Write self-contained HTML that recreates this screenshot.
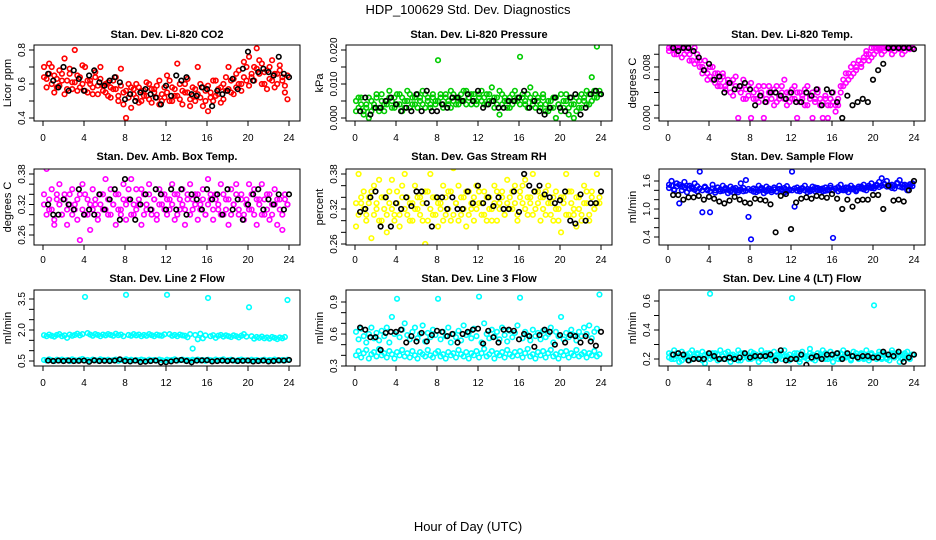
<!DOCTYPE html>
<html><head><meta charset="utf-8"><style>
html,body{margin:0;padding:0;background:#fff;}
svg{display:block;font-family:"Liberation Sans",sans-serif;}
</style></head><body>
<svg id="chart" width="936" height="540" viewBox="0 0 936 540">
<text x="468" y="14" text-anchor="middle" font-size="13">HDP_100629  Std. Dev. Diagnostics</text>
<text x="468" y="531" text-anchor="middle" font-size="13">Hour of Day (UTC)</text>
</svg>
<script>
const xTicks=[0,4,8,12,16,20,24];
const co2A=[0.70,0.63,0.72,0.60,0.65,0.58,0.68,0.62,0.75,0.57,0.66,0.61,0.80,0.56,0.64,0.60,0.70,0.55,0.62,0.58,0.67,0.54,0.63,0.59,0.60,0.53,0.58,0.62,0.57,0.50,0.69,0.55,0.40,0.52,0.58,0.54,0.60,0.49,0.56,0.53,0.61,0.51,0.57,0.55,0.59,0.48,0.54,0.52,0.65,0.50,0.58,0.53,0.72,0.51,0.56,0.60,0.55,0.47,0.53,0.57,0.70,0.52,0.58,0.50,0.44,0.55,0.62,0.53,0.57,0.49,0.60,0.56,0.70,0.55,0.63,0.58,0.68,0.60,0.73,0.62,0.76,0.64,0.70,0.81,0.66,0.72,0.60,0.68,0.63,0.74,0.58,0.66,0.71,0.62,0.55,0.51];
const co2B=[0.64,0.58,0.66,0.70,0.55,0.63,0.59,0.66,0.54,0.62,0.69,0.57,0.61,0.65,0.58,0.71,0.56,0.62,0.60,0.54,0.64,0.59,0.70,0.56,0.55,0.61,0.52,0.57,0.64,0.53,0.59,0.48,0.56,0.60,0.46,0.57,0.52,0.58,0.50,0.56,0.53,0.60,0.49,0.57,0.52,0.62,0.50,0.58,0.55,0.62,0.50,0.57,0.53,0.60,0.48,0.55,0.63,0.51,0.58,0.50,0.54,0.60,0.47,0.56,0.59,0.52,0.50,0.62,0.54,0.58,0.51,0.64,0.57,0.62,0.54,0.66,0.60,0.56,0.64,0.70,0.59,0.66,0.62,0.69,0.74,0.60,0.67,0.57,0.70,0.62,0.66,0.60,0.68,0.64,0.59,0.65];
const co2K=[0.66,0.62,0.58,0.70,0.56,0.68,0.63,0.56,0.65,0.68,0.61,0.59,0.62,0.64,0.61,0.51,0.54,0.50,0.55,0.57,0.54,0.52,0.48,0.59,0.53,0.65,0.62,0.64,0.54,0.53,0.58,0.57,0.47,0.56,0.54,0.56,0.63,0.57,0.69,0.79,0.62,0.67,0.69,0.67,0.65,0.76,0.66,0.64];
const presA=[0.005,0.003,0.006,0.002,0.004,0.000,0.005,0.003,0.006,0.002,0.007,0.004,0.005,0.008,0.003,0.006,0.004,0.007,0.002,0.005,0.008,0.003,0.006,0.004,0.007,0.005,0.008,0.003,0.006,0.004,0.007,0.005,0.017,0.006,0.003,0.007,0.004,0.008,0.005,0.006,0.004,0.007,0.005,0.008,0.006,0.004,0.007,0.005,0.006,0.008,0.004,0.007,0.005,0.009,0.006,0.004,0.001,0.007,0.005,0.003,0.006,0.004,0.008,0.005,0.018,0.006,0.004,0.007,0.009,0.005,0.003,0.006,0.004,0.007,0.002,0.005,0.003,0.006,0.000,0.004,0.007,0.003,0.005,0.001,0.004,0.000,0.006,0.003,0.007,0.005,0.008,0.004,0.012,0.006,0.021,0.008];
const presB=[0.002,0.006,0.004,0.001,0.003,0.006,0.002,0.004,0.007,0.003,0.005,0.002,0.004,0.006,0.005,0.003,0.007,0.004,0.006,0.003,0.005,0.007,0.004,0.006,0.003,0.006,0.004,0.007,0.005,0.003,0.006,0.004,0.005,0.007,0.004,0.006,0.005,0.003,0.007,0.004,0.006,0.005,0.008,0.004,0.006,0.007,0.005,0.004,0.007,0.005,0.006,0.004,0.007,0.005,0.003,0.006,0.008,0.004,0.006,0.005,0.003,0.007,0.005,0.006,0.004,0.007,0.005,0.003,0.006,0.004,0.007,0.005,0.003,0.006,0.004,0.002,0.005,0.003,0.006,0.004,0.002,0.005,0.007,0.003,0.006,0.004,0.002,0.005,0.003,0.006,0.004,0.007,0.005,0.008,0.006,0.007];
const presK=[0.002,0.006,0.001,0.003,0.003,0.005,0.006,0.004,0.002,0.003,0.002,0.007,0.002,0.008,0.002,0.002,0.004,0.003,0.006,0.006,0.005,0.007,0.005,0.008,0.003,0.004,0.005,0.003,0.003,0.005,0.005,0.006,0.008,0.003,0.005,0.002,0.001,0.003,0.006,0.003,0.002,0.006,0.007,0.001,0.003,0.007,0.008,0.007];
const tempA=[0.011,0.011,0.010,0.011,0.011,0.011,0.010,0.011,0.010,0.009,0.011,0.009,0.008,0.007,0.009,0.006,0.008,0.006,0.007,0.005,0.006,0.007,0.005,0.006,0.004,0.006,0.005,0.000,0.004,0.006,0.003,0.005,0.000,0.004,0.003,0.005,0.004,0.000,0.003,0.005,0.004,0.002,0.005,0.003,0.004,0.006,0.002,0.004,0.003,0.005,0.000,0.004,0.003,0.002,0.005,0.003,0.000,0.003,0.004,0.002,0.000,0.003,0.000,0.002,0.004,0.001,0.002,0.005,0.006,0.007,0.006,0.008,0.007,0.008,0.009,0.008,0.009,0.010,0.009,0.011,0.010,0.011,0.011,0.010,0.011,0.011,0.011,0.010,0.011,0.011,0.011,0.010,0.011,0.011,0.011,0.011];
const tempB=[0.0105,0.011,0.0108,0.010,0.011,0.0095,0.011,0.0105,0.009,0.0105,0.0085,0.010,0.009,0.008,0.0075,0.007,0.0065,0.008,0.0055,0.007,0.005,0.0065,0.0045,0.0055,0.0055,0.0035,0.0065,0.0045,0.005,0.003,0.0045,0.0035,0.0055,0.003,0.0045,0.0025,0.0035,0.005,0.0025,0.004,0.003,0.0045,0.0025,0.0035,0.005,0.003,0.004,0.0025,0.0045,0.003,0.004,0.0025,0.0035,0.0045,0.002,0.0035,0.004,0.0025,0.0045,0.003,0.0025,0.0035,0.002,0.003,0.0025,0.002,0.003,0.004,0.005,0.0055,0.007,0.0065,0.0085,0.0075,0.009,0.0085,0.0095,0.0105,0.01,0.0095,0.011,0.0105,0.0108,0.011,0.0105,0.011,0.0108,0.011,0.0105,0.011,0.0108,0.011,0.0105,0.011,0.0108,0.011];
const tempK=[0.011,0.0105,0.011,0.011,0.0105,0.0095,0.0075,0.0085,0.006,0.0065,0.004,0.0055,0.0045,0.005,0.0055,0.0045,0.002,0.0035,0.0025,0.004,0.004,0.0035,0.003,0.004,0.0025,0.0025,0.004,0.0035,0.0045,0.002,0.0045,0.004,0.0025,0.000,0.0035,0.002,0.0025,0.003,0.0025,0.006,0.0075,0.0085,0.011,0.011,0.011,0.011,0.011,0.0108];
const ambA=[0.34,0.39,0.31,0.35,0.29,0.33,0.36,0.30,0.34,0.28,0.32,0.35,0.31,0.29,0.34,0.36,0.30,0.33,0.27,0.35,0.32,0.29,0.34,0.31,0.37,0.30,0.35,0.32,0.28,0.34,0.31,0.36,0.29,0.33,0.37,0.30,0.35,0.32,0.28,0.34,0.31,0.36,0.30,0.33,0.29,0.35,0.32,0.34,0.30,0.33,0.36,0.29,0.34,0.31,0.35,0.28,0.33,0.36,0.31,0.34,0.29,0.32,0.35,0.30,0.37,0.33,0.29,0.34,0.31,0.36,0.30,0.33,0.28,0.35,0.32,0.36,0.30,0.34,0.29,0.33,0.36,0.31,0.35,0.28,0.33,0.36,0.30,0.34,0.29,0.32,0.35,0.28,0.33,0.30,0.34,0.32];
const ambB=[0.32,0.30,0.33,0.31,0.28,0.34,0.32,0.30,0.33,0.31,0.34,0.30,0.32,0.33,0.25,0.31,0.34,0.30,0.32,0.31,0.33,0.30,0.32,0.34,0.31,0.33,0.30,0.32,0.34,0.31,0.30,0.33,0.32,0.35,0.30,0.32,0.31,0.33,0.35,0.30,0.32,0.34,0.31,0.33,0.30,0.32,0.34,0.31,0.33,0.31,0.32,0.34,0.30,0.33,0.32,0.31,0.34,0.30,0.33,0.32,0.34,0.31,0.33,0.30,0.32,0.34,0.31,0.33,0.32,0.30,0.34,0.31,0.33,0.30,0.32,0.34,0.31,0.33,0.30,0.32,0.31,0.34,0.30,0.33,0.32,0.30,0.33,0.31,0.34,0.30,0.32,0.33,0.31,0.27,0.33,0.32];
const ambK=[0.32,0.30,0.30,0.33,0.32,0.31,0.35,0.30,0.31,0.30,0.34,0.31,0.33,0.35,0.29,0.37,0.33,0.29,0.32,0.34,0.31,0.35,0.34,0.31,0.35,0.31,0.35,0.30,0.34,0.33,0.31,0.35,0.33,0.34,0.30,0.35,0.31,0.33,0.29,0.32,0.34,0.35,0.31,0.33,0.32,0.34,0.31,0.34];
const rhA=[0.29,0.38,0.33,0.35,0.31,0.34,0.27,0.36,0.32,0.37,0.30,0.34,0.28,0.33,0.37,0.31,0.35,0.29,0.34,0.38,0.31,0.33,0.30,0.36,0.32,0.34,0.30,0.26,0.35,0.38,0.31,0.34,0.29,0.33,0.36,0.31,0.35,0.30,0.39,0.33,0.36,0.31,0.34,0.29,0.35,0.32,0.30,0.36,0.33,0.31,0.35,0.30,0.34,0.32,0.36,0.30,0.33,0.35,0.31,0.37,0.34,0.32,0.36,0.30,0.35,0.33,0.37,0.31,0.34,0.38,0.32,0.35,0.30,0.34,0.31,0.36,0.33,0.30,0.35,0.32,0.28,0.34,0.38,0.31,0.35,0.32,0.29,0.34,0.31,0.36,0.33,0.30,0.35,0.32,0.38,0.33];
const rhB=[0.33,0.31,0.34,0.32,0.30,0.33,0.35,0.31,0.33,0.30,0.34,0.32,0.31,0.35,0.32,0.30,0.33,0.31,0.36,0.32,0.34,0.30,0.33,0.32,0.34,0.31,0.33,0.35,0.30,0.32,0.34,0.31,0.33,0.32,0.30,0.34,0.32,0.35,0.31,0.33,0.30,0.34,0.32,0.35,0.31,0.33,0.34,0.32,0.35,0.33,0.31,0.34,0.32,0.30,0.33,0.35,0.32,0.34,0.31,0.33,0.32,0.35,0.33,0.31,0.34,0.36,0.32,0.34,0.33,0.31,0.35,0.33,0.34,0.32,0.35,0.33,0.31,0.34,0.32,0.30,0.34,0.33,0.31,0.35,0.33,0.31,0.34,0.32,0.30,0.33,0.35,0.31,0.34,0.32,0.33,0.34];
const rhK=[0.315,0.32,0.34,0.35,0.29,0.34,0.29,0.33,0.32,0.34,0.325,0.35,0.35,0.33,0.29,0.34,0.34,0.32,0.34,0.32,0.32,0.35,0.33,0.36,0.33,0.34,0.325,0.34,0.32,0.32,0.35,0.315,0.38,0.36,0.35,0.36,0.345,0.34,0.33,0.335,0.35,0.30,0.295,0.345,0.30,0.33,0.33,0.35];
const flowA=[1.52,1.60,1.40,1.55,1.12,1.48,1.58,1.36,1.50,1.44,1.55,1.38,1.80,0.93,1.48,1.40,0.93,1.52,1.35,1.46,1.38,1.50,1.42,1.34,1.48,1.36,1.45,1.40,1.55,1.38,1.62,0.83,0.35,1.44,1.36,1.50,1.42,1.34,1.48,1.40,1.36,1.46,1.38,1.50,1.42,1.35,1.49,1.40,1.80,1.05,1.46,1.38,1.44,1.50,1.36,1.42,1.48,1.38,1.45,1.40,1.38,1.46,1.40,1.50,0.38,1.44,1.38,1.52,1.40,1.46,1.36,1.50,1.42,1.38,1.48,1.44,1.52,1.40,1.46,1.55,1.44,1.50,1.58,1.66,1.54,1.60,1.48,1.52,1.44,1.56,1.62,1.46,1.52,1.40,1.48,1.55];
const flowB=[1.45,1.50,1.42,1.48,1.52,1.40,1.46,1.50,1.43,1.47,1.41,1.49,1.44,1.40,1.46,1.42,1.38,1.44,1.40,1.46,1.42,1.39,1.45,1.41,1.38,1.44,1.40,1.36,1.42,1.45,1.39,1.43,1.40,1.37,1.43,1.39,1.45,1.41,1.38,1.44,1.40,1.42,1.37,1.43,1.40,1.45,1.38,1.42,1.40,1.44,1.39,1.42,1.45,1.40,1.43,1.38,1.41,1.46,1.40,1.43,1.44,1.39,1.42,1.45,1.40,1.43,1.47,1.41,1.44,1.40,1.46,1.42,1.45,1.41,1.44,1.48,1.42,1.46,1.50,1.45,1.48,1.52,1.47,1.50,1.53,1.48,1.51,1.45,1.50,1.54,1.48,1.52,1.46,1.50,1.53,1.49];
const flowK=[1.30,1.30,1.20,1.25,1.25,1.28,1.20,1.26,1.22,1.16,1.12,1.18,1.26,1.20,1.14,1.12,1.22,1.20,1.18,1.10,0.50,1.28,1.32,0.57,1.14,1.22,1.25,1.22,1.28,1.26,1.24,1.32,1.22,1.00,1.20,1.05,1.18,1.20,1.20,1.30,1.30,1.00,1.50,1.18,1.20,1.16,1.40,1.60];
const l2A=[1.75,1.70,1.78,1.72,1.68,1.76,1.80,1.70,1.74,1.62,1.78,1.72,1.76,1.82,1.74,1.80,3.60,1.85,1.78,1.72,1.80,1.76,1.70,1.78,1.74,1.80,1.76,1.72,1.82,1.75,1.78,1.70,3.70,1.76,1.72,1.80,1.74,1.78,1.70,1.76,1.72,1.80,1.75,1.70,1.78,1.74,1.72,1.79,3.70,1.80,1.72,1.76,1.70,1.78,1.74,1.72,1.65,1.80,1.10,1.76,1.55,1.82,1.60,1.74,3.55,1.70,1.75,1.62,1.72,1.76,1.68,1.74,1.70,1.66,1.74,1.70,1.64,1.72,1.80,1.68,3.10,1.70,1.58,1.66,1.62,1.68,1.60,1.64,1.58,1.66,1.62,1.56,1.64,1.60,1.66,3.45];
const l2B=[0.55,0.52,0.58,0.54,0.50,0.56,0.53,0.57,0.52,0.55,0.50,0.58,0.54,0.52,0.56,0.60,0.53,0.55,0.51,0.57,0.54,0.52,0.58,0.55,0.53,0.56,0.52,0.54,0.57,0.51,0.55,0.53,0.58,0.54,0.56,0.52,0.55,0.53,0.57,0.54,0.51,0.56,0.53,0.55,0.52,0.57,0.54,0.50,0.56,0.53,0.55,0.58,0.52,0.54,0.57,0.53,0.55,0.52,0.56,0.54,0.57,0.53,0.55,0.51,0.56,0.54,0.52,0.57,0.53,0.55,0.58,0.52,0.54,0.56,0.53,0.51,0.55,0.57,0.53,0.54,0.52,0.56,0.53,0.55,0.51,0.54,0.56,0.52,0.55,0.53,0.57,0.54,0.52,0.55,0.53,0.56];
const l2K=[0.52,0.50,0.52,0.50,0.52,0.50,0.51,0.52,0.46,0.53,0.50,0.51,0.50,0.52,0.58,0.50,0.48,0.52,0.45,0.47,0.50,0.52,0.43,0.44,0.48,0.52,0.55,0.50,0.44,0.52,0.53,0.54,0.48,0.50,0.52,0.50,0.53,0.50,0.51,0.52,0.48,0.50,0.52,0.48,0.50,0.53,0.52,0.55];
const l3A=[0.62,0.55,0.65,0.58,0.52,0.60,0.66,0.56,0.61,0.54,0.63,0.58,0.66,0.52,0.76,0.60,0.93,0.57,0.64,0.70,0.59,0.55,0.62,0.66,0.56,0.60,0.68,0.53,0.61,0.57,0.64,0.59,0.93,0.55,0.62,0.58,0.66,0.52,0.60,0.57,0.63,0.54,0.68,0.59,0.61,0.56,0.65,0.58,0.95,0.52,0.70,0.60,0.56,0.64,0.58,0.62,0.55,0.66,0.59,0.53,0.63,0.57,0.61,0.68,0.94,0.56,0.62,0.59,0.54,0.64,0.58,0.61,0.55,0.63,0.57,0.60,0.66,0.52,0.62,0.58,0.76,0.55,0.61,0.57,0.64,0.59,0.54,0.62,0.58,0.66,0.60,0.68,0.56,0.62,0.65,0.97];
const l3B=[0.40,0.44,0.38,0.42,0.45,0.37,0.41,0.43,0.39,0.46,0.40,0.42,0.38,0.44,0.41,0.37,0.43,0.40,0.45,0.39,0.42,0.38,0.44,0.40,0.37,0.43,0.41,0.39,0.45,0.40,0.38,0.42,0.44,0.39,0.41,0.37,0.43,0.40,0.42,0.38,0.45,0.41,0.39,0.43,0.37,0.42,0.40,0.44,0.38,0.42,0.46,0.39,0.41,0.44,0.37,0.42,0.40,0.43,0.38,0.45,0.41,0.39,0.43,0.40,0.44,0.38,0.42,0.46,0.39,0.41,0.37,0.43,0.40,0.44,0.38,0.42,0.45,0.39,0.41,0.37,0.43,0.40,0.44,0.38,0.42,0.40,0.45,0.39,0.41,0.43,0.38,0.42,0.40,0.44,0.39,0.41];
const l3K=[0.66,0.64,0.57,0.57,0.45,0.61,0.62,0.62,0.64,0.52,0.58,0.53,0.61,0.53,0.59,0.63,0.62,0.58,0.60,0.52,0.60,0.62,0.64,0.65,0.51,0.63,0.57,0.52,0.64,0.64,0.63,0.55,0.60,0.58,0.48,0.59,0.64,0.62,0.50,0.59,0.52,0.59,0.58,0.52,0.58,0.53,0.49,0.62];
const l4A=[0.24,0.20,0.26,0.22,0.18,0.25,0.21,0.23,0.19,0.26,0.22,0.24,0.20,0.25,0.17,0.23,0.65,0.21,0.24,0.19,0.26,0.22,0.20,0.25,0.18,0.23,0.21,0.26,0.19,0.24,0.22,0.20,0.25,0.21,0.23,0.18,0.26,0.22,0.20,0.24,0.19,0.25,0.21,0.23,0.20,0.26,0.22,0.19,0.62,0.24,0.21,0.18,0.25,0.22,0.20,0.27,0.23,0.19,0.24,0.21,0.26,0.20,0.23,0.25,0.18,0.22,0.24,0.20,0.26,0.21,0.23,0.19,0.25,0.22,0.20,0.24,0.21,0.26,0.19,0.23,0.57,0.22,0.25,0.20,0.24,0.21,0.19,0.26,0.22,0.24,0.18,0.23,0.21,0.25,0.20,0.23];
const l4B=[0.21,0.23,0.20,0.24,0.22,0.19,0.23,0.21,0.24,0.20,0.22,0.23,0.21,0.19,0.23,0.22,0.20,0.24,0.21,0.23,0.20,0.22,0.24,0.21,0.23,0.20,0.22,0.19,0.24,0.21,0.23,0.22,0.20,0.24,0.21,0.22,0.20,0.23,0.24,0.21,0.22,0.20,0.23,0.21,0.24,0.22,0.20,0.23,0.21,0.22,0.24,0.20,0.23,0.21,0.22,0.24,0.20,0.22,0.21,0.23,0.22,0.24,0.20,0.21,0.23,0.22,0.20,0.24,0.21,0.22,0.23,0.20,0.22,0.24,0.21,0.23,0.20,0.22,0.21,0.24,0.22,0.20,0.23,0.21,0.23,0.20,0.22,0.24,0.21,0.23,0.22,0.20,0.24,0.21,0.22,0.23];
const l4K=[0.23,0.24,0.23,0.19,0.20,0.20,0.20,0.24,0.22,0.20,0.20,0.21,0.20,0.21,0.24,0.21,0.22,0.22,0.22,0.23,0.19,0.26,0.19,0.20,0.20,0.23,0.16,0.21,0.22,0.20,0.23,0.23,0.24,0.20,0.24,0.22,0.21,0.22,0.22,0.21,0.21,0.25,0.23,0.22,0.25,0.18,0.21,0.23];

const NS="http://www.w3.org/2000/svg";
const svg=document.getElementById('chart');
function mk(tag,attrs,parent){const e=document.createElementNS(NS,tag);for(const k in attrs)e.setAttribute(k,attrs[k]);(parent||svg).appendChild(e);return e;}
const colX0=[43,355,668];const hourPx=246/24;
const rowTop=[45,169,290];const rowBot=[121,245,366];const rowLab=[141,263,386];const rowTitle=[38,160,282];
const panels=[
 {slug:'co2',title:'Stan. Dev. Li-820 CO2',ylab:'Licor ppm',c:0,r:0,ref:[0.8,50,0.4,118],ticks:[0.4,0.5,0.6,0.7,0.8],labs:[0.4,0.6,0.8],dec:1,col:'#ff0000',series:[co2A,co2B],blk:co2K},
 {slug:'pressure',title:'Stan. Dev. Li-820 Pressure',ylab:'kPa',c:1,r:0,ref:[0.02,50,0,118],ticks:[0,0.005,0.01,0.015,0.02],labs:[0,0.01,0.02],dec:3,col:'#00cc00',series:[presA,presB],blk:presK},
 {slug:'temp',title:'Stan. Dev. Li-820 Temp.',ylab:'degrees C',c:2,r:0,ref:[0,118,0.008,67],ticks:[0,0.002,0.004,0.006,0.008,0.01],labs:[0,0.008],dec:3,col:'#ff00ff',series:[tempA,tempB],blk:tempK},
 {slug:'amb-box-temp',title:'Stan. Dev. Amb. Box Temp.',ylab:'degrees C',c:0,r:1,ref:[0.38,174,0.26,235],ticks:[0.26,0.28,0.3,0.32,0.34,0.36,0.38],labs:[0.26,0.32,0.38],dec:2,col:'#ff00ff',series:[ambA,ambB],blk:ambK},
 {slug:'gas-rh',title:'Stan. Dev. Gas Stream RH',ylab:'percent',c:1,r:1,ref:[0.38,174,0.26,244],ticks:[0.26,0.28,0.3,0.32,0.34,0.36,0.38],labs:[0.26,0.32,0.38],dec:2,col:'#ffff00',series:[rhA,rhB],blk:rhK},
 {slug:'sample-flow',title:'Stan. Dev. Sample Flow',ylab:'ml/min',c:2,r:1,ref:[1.6,181,0.4,237],ticks:[0.4,0.6,0.8,1.0,1.2,1.4,1.6],labs:[0.4,1.0,1.6],dec:1,col:'#0000ff',series:[flowA,flowB],blk:flowK},
 {slug:'line2-flow',title:'Stan. Dev. Line 2 Flow',ylab:'ml/min',c:0,r:2,ref:[3.5,299,0.5,361],ticks:[0.5,1,1.5,2,2.5,3,3.5],labs:[0.5,2.0,3.5],dec:1,col:'#00ffff',series:[l2A,l2B],blk:l2K},
 {slug:'line3-flow',title:'Stan. Dev. Line 3 Flow',ylab:'ml/min',c:1,r:2,ref:[0.9,302,0.3,366],ticks:[0.3,0.4,0.5,0.6,0.7,0.8,0.9],labs:[0.3,0.6,0.9],dec:1,col:'#00ffff',series:[l3A,l3B],blk:l3K},
 {slug:'line4-flow',title:'Stan. Dev. Line 4 (LT) Flow',ylab:'ml/min',c:2,r:2,ref:[0.6,301,0.2,359],ticks:[0.2,0.3,0.4,0.5,0.6],labs:[0.2,0.4,0.6],dec:1,col:'#00ffff',series:[l4A,l4B],blk:l4K}
];
panels.forEach(p=>{
 const x0=colX0[p.c];const L=x0-9,R=x0+246+11,T=rowTop[p.r],B=rowBot[p.r];
 const xs=h=>x0+h*hourPx;
 const ys=v=>p.ref[1]+(v-p.ref[0])*(p.ref[3]-p.ref[1])/(p.ref[2]-p.ref[0]);
 const g=mk('g',{});
 
 
 const cp=mk('clipPath',{id:'cp-'+p.slug},g);mk('rect',{x:L,y:T,width:R-L,height:B-T},cp);
 const t=mk('text',{x:(L+R)/2,y:rowTitle[p.r],'text-anchor':'middle','font-size':'11','font-weight':'bold'},g);t.textContent=p.title;
 
 
 const yl=mk('text',{transform:`translate(${L-23},${(T+B)/2}) rotate(-90)`,'text-anchor':'middle','font-size':'11'},g);yl.textContent=p.ylab;
 
 
 const marks=mk('g',{'clip-path':`url(#cp-${p.slug})`,fill:'none','stroke-width':'1.6'},g);
 p.series.forEach(arr=>{const n=arr.length;arr.forEach((v,i)=>{const c=mk('circle',{cx:xs(i*24/n+0.1),cy:ys(v),r:2.3,stroke:p.col},marks);
  
  });});
 const nk=p.blk.length;
 p.blk.forEach((v,i)=>{const c=mk('circle',{cx:xs((i+1)*24/nk),cy:ys(v),r:2.3,stroke:'#000'},marks);
  
  });
 const box=mk('rect',{x:L,y:T,width:R-L,height:B-T,fill:'none',stroke:'#000','stroke-width':'1'},g);
 
 
 xTicks.forEach(h=>{mk('line',{x1:xs(h),x2:xs(h),y1:B,y2:B+5,stroke:'#000'},g);
  const tl=mk('text',{x:xs(h),y:rowLab[p.r],'text-anchor':'middle','font-size':'10'},g);tl.textContent=h;
  
  });
 p.ticks.forEach(v=>{mk('line',{x1:L,x2:L-5,y1:ys(v),y2:ys(v),stroke:'#000'},g);});
 p.labs.forEach(v=>{const tl=mk('text',{transform:`translate(${L-9},${ys(v)}) rotate(-90)`,'text-anchor':'middle','font-size':'10'},g);tl.textContent=v.toFixed(p.dec);
  
  });
});
</script>
</body></html>
